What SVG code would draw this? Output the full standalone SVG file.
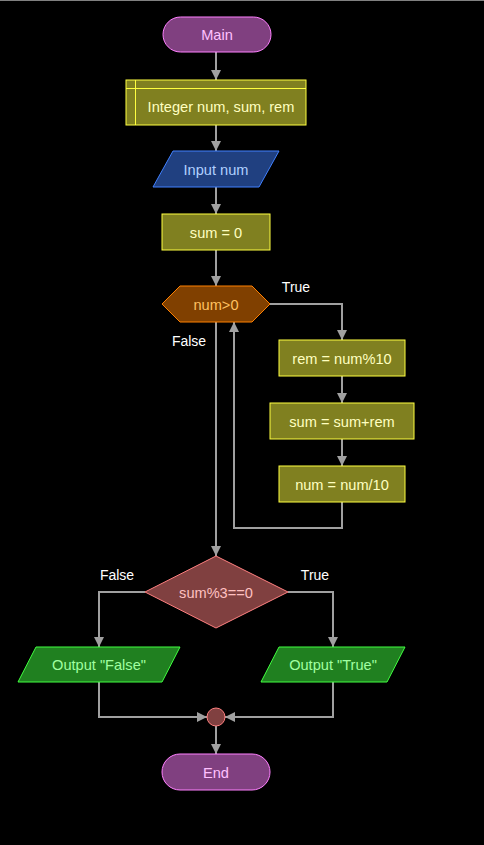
<svg xmlns="http://www.w3.org/2000/svg" width="484" height="845" viewBox="0 0 484 845">
<defs>
<style>
text{font-family:"Liberation Sans",Arial,sans-serif;font-size:14.6px;text-anchor:middle;dominant-baseline:central}
.term{fill:#804080;stroke:#ff80ff;stroke-width:1}
.term-t{fill:#ffc0ff}
.proc{fill:#808020;stroke:#ffff40;stroke-width:1}
.proc-t{fill:#ffffc0}
.io{fill:#204080;stroke:#4080ff;stroke-width:1}
.io-t{fill:#b0d0ff}
.loop{fill:#804000;stroke:#ff8000;stroke-width:1}
.loop-t{fill:#ffc060}
.dec{fill:#804040;stroke:#ff8080;stroke-width:1}
.dec-t{fill:#ffc0c0}
.out{fill:#208020;stroke:#40ff40;stroke-width:1}
.out-t{fill:#a0ffa0}
.lbl{fill:#ffffff;font-size:14px}
.edge{fill:none;stroke:#a0a0a0;stroke-width:2;marker-end:url(#arr)}
</style>
<marker id="arr" viewBox="0 0 10 10" refX="10" refY="5" markerWidth="10" markerHeight="10" markerUnits="userSpaceOnUse" orient="auto">
<path d="M0,0 L10,5 L0,10 z" fill="#a0a0a0"/>
</marker>
</defs>
<rect width="484" height="845" fill="#000000"/>
<line x1="0" y1="0.5" x2="484" y2="0.5" stroke="#808080" stroke-width="1"/>
<g id="connectors">
<path class="edge" d="M216,52 L216,80"/>
<path class="edge" d="M216,125 L216,151"/>
<path class="edge" d="M216,187 L216,214"/>
<path class="edge" d="M216,250 L216,286"/>
<path class="edge" d="M270,304 L342,304 L342,340"/>
<path class="edge" d="M342,376 L342,403"/>
<path class="edge" d="M342,439 L342,466"/>
<path class="edge" d="M342,502 L342,528 L234,528 L234,322"/>
<path class="edge" d="M216,322 L216,556"/>
<path class="edge" d="M145,592 L99,592 L99,647"/>
<path class="edge" d="M288,592 L333,592 L333,647"/>
<path class="edge" d="M99,682 L99,717 L207,717"/>
<path class="edge" d="M333,682 L333,717 L225,717"/>
<path class="edge" d="M216,726 L216,754"/>
<text class="lbl" x="296" y="287">True</text>
<text class="lbl" x="189" y="341">False</text>
<text class="lbl" x="117" y="575">False</text>
<text class="lbl" x="315" y="575">True</text>
</g>
<g id="main">
<rect class="term" x="163" y="17" width="108" height="35" rx="17.5"/>
<text class="term-t" x="217" y="35">Main</text>
</g>
<g id="declare">
<rect class="proc" x="126" y="80" width="180" height="45"/>
<line x1="126" y1="88.5" x2="306" y2="88.5" stroke="#ffff40" stroke-width="1"/>
<line x1="135.5" y1="80" x2="135.5" y2="125" stroke="#ffff40" stroke-width="1"/>
<text class="proc-t" x="221" y="107">Integer num, sum, rem</text>
</g>
<g id="input">
<polygon class="io" points="173,151 279,151 259,187 153,187"/>
<text class="io-t" x="216" y="170">Input num</text>
</g>
<g id="init">
<rect class="proc" x="162" y="214" width="108" height="36"/>
<text class="proc-t" x="216" y="233">sum = 0</text>
</g>
<g id="while">
<polygon class="loop" points="162,304 180,286 252,286 270,304 252,322 180,322"/>
<text class="loop-t" x="216" y="305">num&gt;0</text>
</g>
<g id="rem">
<rect class="proc" x="279" y="340" width="126" height="36"/>
<text class="proc-t" x="342" y="359">rem = num%10</text>
</g>
<g id="sumadd">
<rect class="proc" x="270" y="403" width="144" height="36"/>
<text class="proc-t" x="342" y="422">sum = sum+rem</text>
</g>
<g id="div">
<rect class="proc" x="279" y="466" width="126" height="36"/>
<text class="proc-t" x="342" y="485">num = num/10</text>
</g>
<g id="if">
<polygon class="dec" points="216,556 288,592 216,628 145,592"/>
<text class="dec-t" x="216" y="593">sum%3==0</text>
</g>
<g id="outfalse">
<polygon class="out" points="36,647 180,647 162,682 18,682"/>
<text class="out-t" x="99" y="665">Output "False"</text>
</g>
<g id="outtrue">
<polygon class="out" points="279,647 405,647 387,682 261,682"/>
<text class="out-t" x="333" y="665">Output "True"</text>
</g>
<g id="join">
<circle class="dec" cx="216" cy="717" r="9"/>
</g>
<g id="end">
<rect class="term" x="162" y="754" width="108" height="36" rx="18"/>
<text class="term-t" x="216" y="773">End</text>
</g>
</svg>
